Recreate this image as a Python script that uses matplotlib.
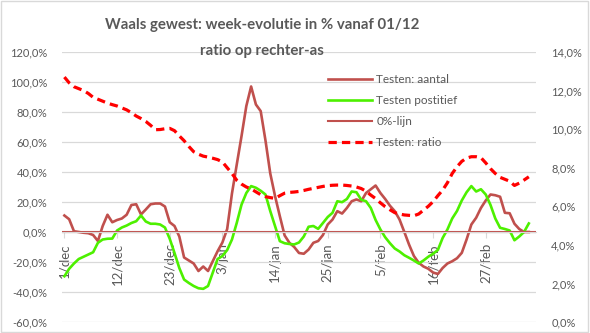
import numpy as np
import matplotlib.pyplot as plt
from matplotlib.ticker import FuncFormatter, MultipleLocator
from matplotlib.patches import Rectangle

plt.rcParams['font.family'] = ['Lato', 'DejaVu Sans']

# categorieen: dagen vanaf 1/dec (99 dagen op de as)
n_cat = 99
tick_pos = [0, 11, 22, 33, 44, 55, 66, 77, 88]
tick_labels = ["1/dec", "12/dec", "23/dec", "3/jan", "14/jan", "25/jan",
               "5/feb", "16/feb", "27/feb"]

# week-evolutie in %, linker as
aantal = [11, 8.5, 0.5, 0, -0.5, -0.8, -2, -6, 4, 11.5,
          6.5, 8, 9, 11.5, 18, 18.5, 11.7, 15, 18.5, 19,
          19, 17, 6.5, 4, -3, -17, -19, -21, -26, -23,
          -26, -19.4, -12.8, -7, 2, 25.7, 45, 64, 84, 97,
          85, 80.6, 61, 39, 23.9, 10.5, -2.3, -7.2, -10, -14,
          -14.5, -11.7, -7.2, -6, -2, 5, 8.3, 13.9, 12.3, 16,
          20.5, 21.7, 20.5, 26, 28.5, 31, 26, 22, 17.5, 13.9,
          8.3, 0, -8.5, -16, -20.5, -23, -24.5, -27, -28, -24,
          -21, -19.5, -17.5, -13.9, -5, 5, 9.5, 16, 21, 25,
          24.5, 23.5, 12.8, 12.5, 5.5, 2, 0, 0]

positief = [-29.5, -24.5, -21, -18, -16.5, -15, -13.5, -7.2, -5, -4.5,
            -4.4, 1, 3, 4.3, 6, 7.2, 11, 7, 5.5, 5.5,
            5, 3, -4.5, -14, -24, -31.7, -34, -36, -37.5, -37.9,
            -36, -27, -18, -16, -12, -5, 6.1, 18.3, 26, 30.6,
            29.5, 27.5, 25, 13.9, 3.9, -6.1, -7.5, -8, -8.3, -7,
            -3, 3.5, 4, 2.1, 6, 10, 12.8, 20.5, 19.9, 22,
            27, 26.5, 21.5, 20.5, 16, 8, 1.7, -3.5, -7.5, -11,
            -13, -15.5, -17.2, -19, -21, -19, -16.5, -14.5, -12, -4,
            1.7, 9, 14, 21, 26.5, 30.6, 27, 28.5, 25, 18,
            9, 2.8, 2, 1, -5.5, -3, 0, 5.7]

# ratio positief/aantal in %, rechter as
ratio = [12.7, 12.4, 12.2, 12.1, 12.0, 11.85, 11.65, 11.55, 11.45, 11.35,
         11.27, 11.2, 11.1, 11.0, 10.85, 10.68, 10.55, 10.4, 10.2, 9.97,
         9.98, 10.02, 10.04, 9.92, 9.65, 9.4, 9.1, 8.83, 8.7, 8.6,
         8.55, 8.49, 8.42, 8.3, 8.0, 7.7, 7.35, 7.15, 7.0, 6.9,
         6.75, 6.6, 6.5, 6.45, 6.41, 6.55, 6.68, 6.72, 6.74, 6.77,
         6.82, 6.88, 6.93, 6.98, 7.03, 7.07, 7.09, 7.1, 7.1, 7.08,
         7.05, 7.0, 6.92, 6.78, 6.58, 6.4, 6.18, 5.98, 5.82, 5.67,
         5.6, 5.55, 5.53, 5.51, 5.6, 5.8, 6.0, 6.24, 6.55, 6.84,
         7.22, 7.7, 8.05, 8.33, 8.5, 8.57, 8.57, 8.52, 8.25, 7.95,
         7.7, 7.5, 7.4, 7.3, 7.08, 7.2, 7.36, 7.53]

zero_line = 0.0

grey = '#595959'
grid = '#D9D9D9'
brown = '#C0504D'
green = '#4DF000'
red = '#FF0000'

fig = plt.figure(figsize=(5.9, 3.33), dpi=100)
ax = fig.add_axes([62/590, 11/333, 474/590, 270/333])
ax2 = ax.twinx()

x = np.arange(len(aantal))
l1, = ax.plot(x, aantal, color=brown, lw=1.9, label='Testen: aantal')
l2, = ax.plot(x, positief, color=green, lw=1.9, label='Testen postitief')
l3 = ax.axhline(zero_line, color=brown, lw=1.5, label='0%-lijn')
l4, = ax2.plot(x, ratio, color=red, lw=2.3, linestyle=(0, (2.6, 1.6)),
               label='Testen: ratio')

pct = lambda v, p: f"{v:.1f}%".replace('.', ',')

ax.set_xlim(-0.5, n_cat - 0.5)
ax.set_ylim(-60, 120)
ax.yaxis.set_major_locator(MultipleLocator(20))
ax.yaxis.set_major_formatter(FuncFormatter(pct))
ax2.set_ylim(0, 14)
ax2.yaxis.set_major_locator(MultipleLocator(2))
ax2.yaxis.set_major_formatter(FuncFormatter(pct))

ax.set_xticks(tick_pos)
ax.set_xticklabels(tick_labels)
ax.spines['bottom'].set_position(('data', 0))
ax.spines['bottom'].set_color(grid)
for s in ['top', 'left', 'right']:
    ax.spines[s].set_visible(False)
for s in ax2.spines.values():
    s.set_visible(False)

ax.tick_params(axis='x', colors=grid, labelcolor=grey, labelsize=9.5,
               length=4, pad=4, labelrotation=90)
for t in ax.get_xticklabels():
    t.set_va('top')
    t.set_ha('center')
ax.tick_params(axis='y', length=0, labelcolor=grey, labelsize=8, pad=10.5)
ax2.tick_params(axis='y', length=0, labelcolor=grey, labelsize=8, pad=11)

ax.yaxis.grid(True, color=grid, lw=0.9)
ax.set_axisbelow(True)

fig.text(262/590, 1 - 25/333, 'Waals gewest: week-evolutie in % vanaf 01/12',
         ha='center', va='center', fontsize=10.8, fontweight='bold', color=grey)
fig.text(262/590, 1 - 51/333, 'ratio op rechter-as',
         ha='center', va='center', fontsize=10.8, fontweight='bold', color=grey)

leg = ax2.legend(handles=[l1, l2, l3, l4], loc='upper left',
                 bbox_to_anchor=(328/590, 1 - 74/333),
                 bbox_transform=fig.transFigure, frameon=False, fontsize=8.5,
                 handlelength=3.7, handletextpad=0.4, labelspacing=0.86,
                 borderpad=0, borderaxespad=0)
for t in leg.get_texts():
    t.set_color(grey)

fig.patches.append(Rectangle((0.002, 0.003), 0.995, 0.993,
                             transform=fig.transFigure, fill=False,
                             edgecolor=grid, lw=1))

fig.savefig('out.png', dpi=100)
